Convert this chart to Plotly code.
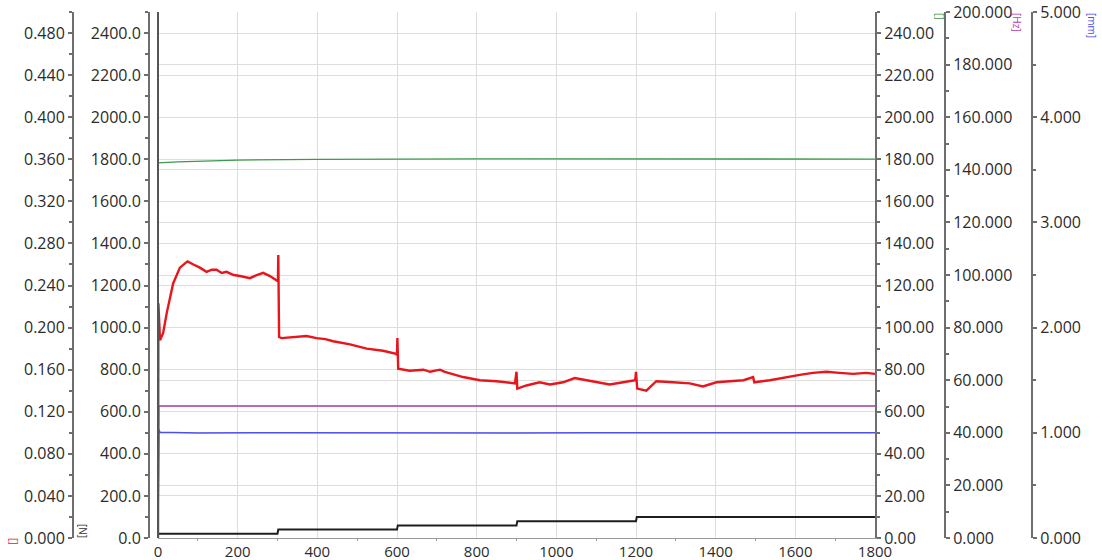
import plotly.graph_objects as go

# Time base (s)
t_cof = [0, 1, 5, 13, 22, 38, 55, 74, 89, 105, 122, 135, 147, 160, 172, 190, 206, 220, 231,
         248, 264, 281, 295, 301, 302, 304, 310, 340, 373, 398, 420, 440, 482, 524, 565, 598,
         600, 601, 603, 632, 666, 683, 708, 720, 766, 808, 850, 896, 900, 902, 925, 958, 984,
         1017, 1046, 1076, 1109, 1134, 1168, 1198, 1200, 1203, 1226, 1251, 1293, 1335, 1368,
         1402, 1435, 1470, 1494, 1497, 1536, 1577, 1611, 1644, 1678, 1711, 1745, 1778, 1800]
# Coefficient of friction
cof = [0.0, 0.223, 0.188, 0.195, 0.214, 0.242, 0.257, 0.263, 0.260, 0.257, 0.253, 0.255, 0.255,
       0.252, 0.253, 0.250, 0.249, 0.248, 0.247, 0.250, 0.252, 0.249, 0.246, 0.244, 0.269, 0.191,
       0.190, 0.191, 0.192, 0.190, 0.189, 0.187, 0.184, 0.180, 0.178, 0.175, 0.174, 0.190, 0.161,
       0.159, 0.160, 0.158, 0.160, 0.158, 0.153, 0.150, 0.149, 0.147, 0.158, 0.142, 0.145, 0.148,
       0.146, 0.148, 0.152, 0.150, 0.148, 0.146, 0.148, 0.150, 0.158, 0.142, 0.140, 0.149, 0.148,
       0.147, 0.144, 0.148, 0.149, 0.150, 0.153, 0.148, 0.150, 0.153, 0.155, 0.157, 0.158, 0.157,
       0.156, 0.157, 0.156]

# Normal load [N]
t_load = [0, 300, 302, 600, 602, 900, 902, 1200, 1202, 1800]
load = [20, 20, 40, 40, 60, 60, 80, 80, 100, 100]

# Temperature-like channel (0-250 scale)
t_temp = [0, 50, 200, 400, 800, 1200, 1800]
temp = [178.3, 178.8, 179.6, 180.0, 180.2, 180.2, 180.1]

# Frequency [Hz]
t_freq = [0, 2, 1800]
freq = [0, 50.2, 50.2]

# Stroke [mm]
t_stroke = [0, 2, 5, 100, 300, 500, 700, 900, 1100, 1300, 1500, 1700, 1800]
stroke = [0, 1.03, 1.005, 0.998, 1.0, 0.997, 1.0, 0.998, 1.0, 0.998, 1.0, 0.998, 1.0]

W, H = 1102, 560
X0, X1 = 158, 875     # plot area, px
TOP, BOT = 12, 538

FONT = "Open Sans"
TXT = "#2b2b2b"
AX = "#6e6e6e"
GRID = "#dedede"


def px(x):
    return x / W


def py(y):
    return (BOT - y) / (BOT - TOP)


fig = go.Figure()
fig.add_trace(go.Scatter(x=t_load, y=load, mode="lines", yaxis="y",
                         line=dict(color="#1e1e1e", width=2), name="Load"))
fig.add_trace(go.Scatter(x=t_temp, y=temp, mode="lines", yaxis="y3",
                         line=dict(color="#3c9a4c", width=1.3), name="Temp"))
fig.add_trace(go.Scatter(x=t_freq, y=freq, mode="lines", yaxis="y4",
                         line=dict(color="#a03d96", width=1.5), name="Frequency"))
fig.add_trace(go.Scatter(x=t_stroke, y=stroke, mode="lines", yaxis="y5",
                         line=dict(color="#4d4df0", width=1.5), name="Stroke"))
fig.add_trace(go.Scatter(x=t_cof, y=cof, mode="lines", yaxis="y2",
                         line=dict(color="#e8161c", width=2.4), name="COF"))

tickfont = dict(family=FONT, size=16, color=TXT)


def yax(rng, dtick, fmt, position=None, side="left", grid=False, anchor="free", overlay=True):
    d = dict(range=rng, dtick=dtick, tick0=0, tickformat=fmt, side=side,
             showline=True, linecolor=AX, linewidth=2, ticks="outside", ticklen=4,
             tickcolor=AX, tickwidth=1.5, tickfont=tickfont, zeroline=False, automargin=False,
             showgrid=grid, gridcolor=GRID, gridwidth=1, fixedrange=True,
             minor=dict(dtick=dtick / 2, ticks="outside", ticklen=3, tickcolor=AX, showgrid=False))
    d["anchor"] = anchor
    if position is not None:
        d["position"] = position
    if overlay:
        d["overlaying"] = "y"
    return d


fig.update_layout(
    width=W, height=H, autosize=False,
    margin=dict(l=0, r=0, t=TOP, b=H - BOT),
    paper_bgcolor="white", plot_bgcolor="white",
    showlegend=False,
    font=dict(family=FONT, color=TXT),
    xaxis=dict(domain=[px(X0), px(X1)], range=[0, 1800], dtick=200, tick0=0,
               showline=True, linecolor="#9a9a9a", linewidth=1, ticks="", ticklen=0,
               tickfont=dict(family=FONT, size=15, color=TXT),
               showgrid=True, gridcolor=GRID,
               zeroline=False, fixedrange=True, automargin=False,
               minor=dict(dtick=100, ticks="outside", ticklen=2, tickcolor="#9a9a9a", showgrid=False)),
    yaxis=yax([0, 2500], 200, ".1f", position=px(149), grid=True, overlay=False),
    yaxis2=yax([0, 0.5], 0.04, ".3f", position=px(73)),
    yaxis3=yax([0, 250], 20, ".2f", side="right", anchor="x"),
    yaxis4=yax([0, 200], 20, ".3f", position=px(945), side="right", grid=True),
    yaxis5=yax([0, 5], 1, ".3f", position=px(1032), side="right"),
)

# Left border of the plot area
fig.add_shape(type="line", xref="paper", yref="paper", x0=px(X0), x1=px(X0), y0=0, y1=1,
              line=dict(color="#555555", width=2))

# Unit labels
units = [
    ("[]", 14, 541, "#e8161c"),
    ("[N]", 83, 531, "#333333"),
    ("[]", 940, 16, "#3c9a4c"),
    ("[Hz]", 1017, 22, "#b03cb0"),
    ("[mm]", 1092, 25, "#4d4df0"),
]
for txt, x, y, c in units:
    fig.add_annotation(text=txt, x=px(x), y=py(y), xref="paper", yref="paper",
                       showarrow=False, textangle=90, font=dict(family=FONT, size=10, color=c),
                       xanchor="center", yanchor="middle")

fig.write_html("out.html")
